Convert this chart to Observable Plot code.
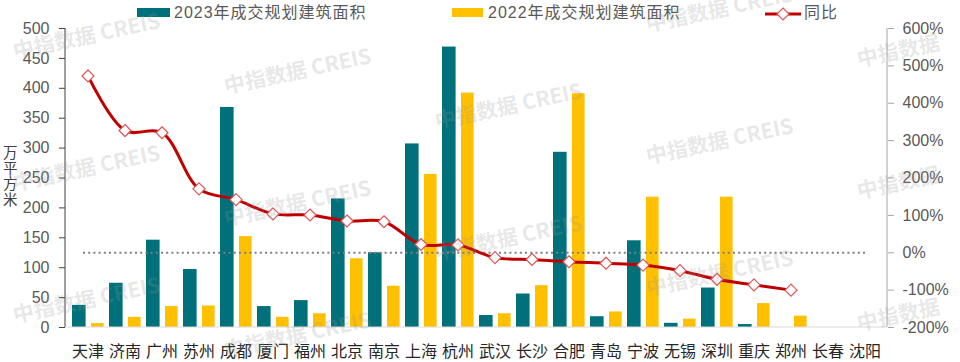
<!DOCTYPE html>
<html>
<head>
<meta charset="utf-8">
<script src="https://cdn.jsdelivr.net/npm/d3@7"></script>
<script src="https://cdn.jsdelivr.net/npm/@observablehq/plot@0.6"></script>
<style>
  html, body { margin: 0; padding: 0; background: #fff; }
  #wrap { position: relative; width: 960px; height: 362px; overflow: hidden; font-family: "Liberation Sans", "Noto Sans CJK SC", sans-serif; }
  .leg { position: absolute; top: 4px; font-size: 16px; color: #595959; letter-spacing: 1px; line-height: 18px; white-space: nowrap; }
  .sw { position: absolute; height: 9px; top: 8px; }
  .wm { position: absolute; font: bold 21px "Noto Sans CJK SC", sans-serif; color: rgba(150,150,150,0.23); white-space: nowrap; transform-origin: 0 50%; transform: rotate(-12deg); pointer-events: none; line-height: 24px; }
  #ylab { position: absolute; left: 3px; top: 144px; font-size: 14.5px; line-height: 15.5px; color: #404040; width: 15px; font-family: "Noto Sans CJK SC", sans-serif; }
</style>
</head>
<body>
<div id="wrap"></div>
<script>
// ---- data ----
const cities = ["天津","济南","广州","苏州","成都","厦门","福州","北京","南京","上海","杭州","武汉","长沙","合肥","青岛","宁波","无锡","深圳","重庆","郑州","长春","沈阳"];
const area2023 = [37, 74, 146, 97, 368, 35, 45, 215, 125, 307, 469, 20, 56, 293, 18, 145, 7, 66, 5, 0, 0, 0];
const area2022 = [6.5, 17, 35, 36, 152, 17, 23, 115, 69, 256, 392, 23, 70, 391, 26, 218, 14, 218, 40, 19, 0, 0];
const yoy = [473, 327, 321, 171, 142, 104, 101, 85, 83, 22, 21, -13, -18, -24, -28, -33, -48, -71, -86, -100, null, null];
const leftTicks = [0, 50, 100, 150, 200, 250, 300, 350, 400, 450, 500];
const rightTicks = [-200, -100, 0, 100, 200, 300, 400, 500, 600];
const seriesNames = ["2023年成交规划建筑面积", "2022年成交规划建筑面积", "同比"];
const yLabel = "万平方米";

// ---- build ----
const rows = cities.map((c, i) => ({city: c, a23: area2023[i], a22: area2022[i], yoy: yoy[i]}));
const lineRows = rows.filter(d => d.yoy != null);
const toLeft = v => (v + 200) * 500 / 800; // right-axis % -> left-axis units
const fromLeft = v => Math.round(v * 800 / 500 - 200);

const TEAL = "#00717A", GOLD = "#FFC000", RED = "#C00000";

const axisLines = (index, scales, values, dim) => {
  const g = d3.create("svg:g");
  const x0 = dim.marginLeft, x1 = dim.width - dim.marginRight;
  const yTop = dim.marginTop, yBot = dim.height - dim.marginBottom;
  g.append("line").attr("x1", x0).attr("x2", x0).attr("y1", yTop).attr("y2", yBot).attr("stroke", "#404040").attr("stroke-width", 1);
  g.append("line").attr("x1", x1).attr("x2", x1).attr("y1", yTop).attr("y2", yBot).attr("stroke", "#a6a6a6").attr("stroke-width", 1);
  g.append("line").attr("x1", x0).attr("x2", x1).attr("y1", yBot).attr("y2", yBot).attr("stroke", "#d9d9d9").attr("stroke-width", 1);
  return g.node();
};

const chart = Plot.plot({
  width: 960,
  height: 362,
  marginTop: 28,
  marginBottom: 35,
  marginLeft: 65,
  marginRight: 73,
  style: {fontFamily: "'Liberation Sans', 'Noto Sans CJK SC', sans-serif", fontSize: "16px", background: "transparent", overflow: "visible"},
  x: {domain: cities, padding: 0, axis: null},
  y: {domain: [0, 500], axis: null},
  marks: [
    Plot.barY(rows, {x: "city", y: "a23", fill: TEAL, insetLeft: 3, insetRight: 20.4}),
    Plot.barY(rows, {x: "city", y: "a22", fill: GOLD, insetLeft: 22, insetRight: 2.4}),
    Plot.ruleY([toLeft(0)], {stroke: "#7f7f7f", strokeWidth: 2, strokeDasharray: "2,3.2", insetLeft: 18, insetRight: 20}),
    axisLines,
    Plot.axisY(leftTicks, {anchor: "left", tickSize: 6, tickPadding: 10, stroke: "#404040", fill: "#595959", label: null}),
    Plot.axisY(rightTicks.map(toLeft), {anchor: "right", tickSize: 6, tickPadding: 9, stroke: "#a6a6a6", fill: "#595959", label: null, tickFormat: v => fromLeft(v) + "%"}),
    Plot.axisX({anchor: "bottom", tickSize: 0, tickPadding: 18, fill: "#262626", label: null, fontFamily: "'Noto Sans CJK SC', sans-serif"}),
    Plot.line(lineRows, {x: "city", y: d => toLeft(d.yoy), stroke: RED, strokeWidth: 3, curve: "catmull-rom"}),
    Plot.dot(lineRows, {x: "city", y: d => toLeft(d.yoy), symbol: "diamond2", r: 5.4, fill: "white", stroke: "#E05555", strokeWidth: 1.2})
  ]
});

const wrap = document.getElementById("wrap");
chart.style.position = "absolute";
chart.style.left = "0";
chart.style.top = "0";
wrap.appendChild(chart);

// legend
const legHTML = `
  <div class="sw" style="left:137px;width:33px;background:${TEAL}"></div>
  <div class="leg" style="left:174px">${seriesNames[0]}</div>
  <div class="sw" style="left:452px;width:31px;background:${GOLD}"></div>
  <div class="leg" style="left:488px">${seriesNames[1]}</div>
  <svg style="position:absolute;left:764px;top:6px" width="38" height="16">
    <line x1="1" x2="37" y1="8" y2="8" stroke="${RED}" stroke-width="3"/>
    <path d="M19,2 L25,8 L19,14 L13,8 Z" fill="white" stroke="#E05555" stroke-width="1.2"/>
  </svg>
  <div class="leg" style="left:804px">${seriesNames[2]}</div>
  <div id="ylab">${yLabel.split("").join("<br>")}</div>
`;
wrap.insertAdjacentHTML("beforeend", legHTML);

// watermark tiling
for (let i = 0; i < 5; i++) {
  for (let j = -2; j < 4; j++) {
    const x = 13 + 211 * i;
    const y = 50 + 35 * i + 132 * j;
    if (y < 14 || y > 350) continue;
    const s = document.createElement("div");
    s.className = "wm";
    s.style.left = x + "px";
    s.style.top = (y - 12) + "px";
    s.textContent = i === 4 ? "中指数据" : "中指数据  CREIS";
    wrap.appendChild(s);
  }
}
</script>
</body>
</html>
